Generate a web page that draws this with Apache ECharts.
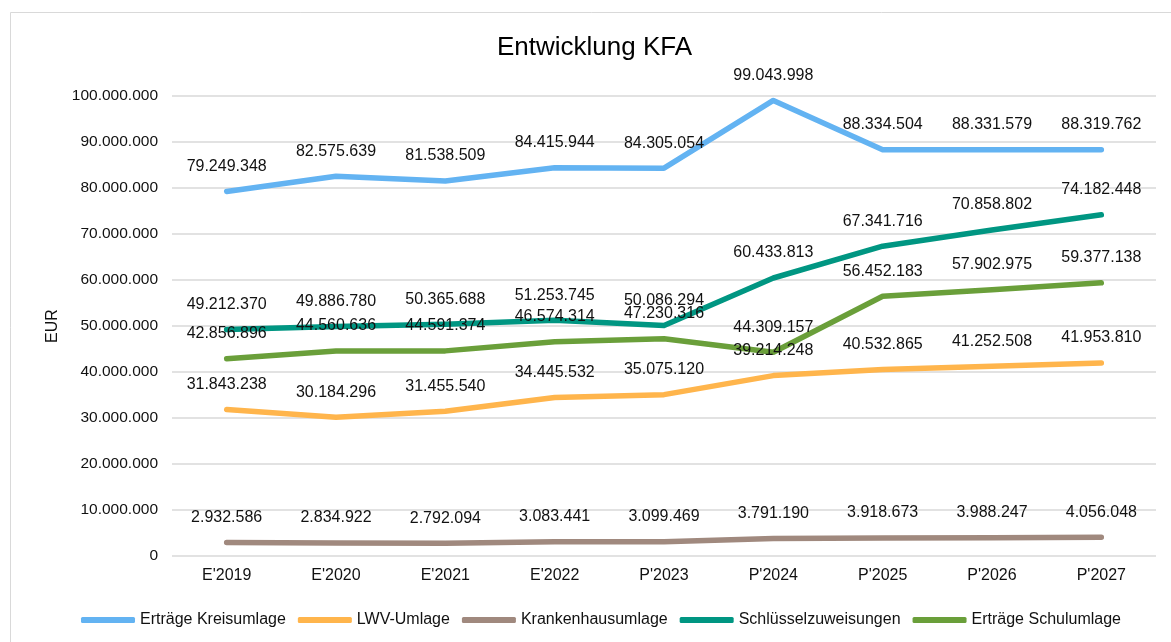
<!DOCTYPE html>
<html>
<head>
<meta charset="utf-8">
<script src="https://cdn.jsdelivr.net/npm/echarts@6/dist/echarts.min.js"></script>
<style>
    html, body { margin: 0; padding: 0; background: #fff; }
    #chart { width: 1171px; height: 642px; }
</style>
</head>
<body>
<div id="chart"></div>
<script>
    // Kategorien (E = Ergebnis, P = Plan)
    const years = ["E'2019", "E'2020", "E'2021", "E'2022", "P'2023", "P'2024", "P'2025", "P'2026", "P'2027"]

    const kreisumlage = [79249348, 82575639, 81538509, 84415944, 84305054, 99043998, 88334504, 88331579, 88319762]
    const lwvUmlage = [31843238, 30184296, 31455540, 34445532, 35075120, 39214248, 40532865, 41252508, 41953810]
    const krankenhausumlage = [2932586, 2834922, 2792094, 3083441, 3099469, 3791190, 3918673, 3988247, 4056048]
    const schluesselzuweisungen = [49212370, 49886780, 50365688, 51253745, 50086294, 60433813, 67341716, 70858802, 74182448]
    const schulumlage = [42856896, 44560636, 44591374, 46574314, 47230316, 44309157, 56452183, 57902975, 59377138]

    const fmt = v => String(v).replace(/\B(?=(\d{3})+(?!\d))/g, '.')

    const font = 'Liberation Sans, Arial, sans-serif'

    function line(name, data, color) {
        return {
            name: name,
            type: 'line',
            data: data,
            // Label haengt am Symbol, deshalb unsichtbarer Punkt statt 'none'
            symbol: 'circle',
            symbolSize: 0.1,
            showAllSymbol: true,
            lineStyle: { color: color, width: 5.5, cap: 'round', join: 'round' },
            itemStyle: { color: color },
            label: {
                show: true,
                position: 'top',
                distance: 17,
                color: '#111',
                fontFamily: font,
                fontSize: 16,
                formatter: p => fmt(p.value)
            },
            labelLayout: { hideOverlap: false }
        }
    }

    let mychart = echarts.init(document.getElementById('chart'))
    let option = {
        animation: false,
        backgroundColor: '#fff',
        title: {
            text: 'Entwicklung KFA',
            left: 492,
            top: 30,
            textStyle: { fontFamily: font, fontSize: 26, fontWeight: 'normal', color: '#000' }
        },
        graphic: [{
            type: 'rect',
            shape: { x: 10.5, y: 12.5, width: 1180, height: 650 },
            style: { fill: 'none', stroke: '#d9d9d9', lineWidth: 1 },
            silent: true
        }],
        grid: { left: 172, right: 15, top: 96, bottom: 86 },
        legend: {
            bottom: 9,
            left: 76,
            icon: 'roundRect',
            itemWidth: 54,
            itemHeight: 6,
            itemGap: 12,
            textStyle: { fontFamily: font, fontSize: 16, color: '#111' }
        },
        xAxis: {
            type: 'category',
            data: years,
            axisLine: { show: false },
            axisTick: { show: false },
            axisLabel: { margin: 12, fontFamily: font, fontSize: 16, color: '#111' }
        },
        yAxis: {
            type: 'value',
            min: 0,
            max: 100000000,
            interval: 10000000,
            name: 'EUR',
            nameLocation: 'middle',
            nameGap: 111,
            nameTextStyle: { fontFamily: font, fontSize: 16, color: '#111' },
            axisLine: { show: false },
            axisTick: { show: false },
            axisLabel: { margin: 14, fontFamily: font, fontSize: 15.5, color: '#111', formatter: v => fmt(v) },
            splitLine: { lineStyle: { color: '#d9d9d9', width: 1.5 } }
        },
        series: [
            line('Erträge Kreisumlage', kreisumlage, '#63b3f2'),
            line('LWV-Umlage', lwvUmlage, '#ffb54c'),
            line('Krankenhausumlage', krankenhausumlage, '#a0897e'),
            line('Schlüsselzuweisungen', schluesselzuweisungen, '#009682'),
            line('Erträge Schulumlage', schulumlage, '#6a9f3a')
        ]
    }
    mychart.setOption(option)
</script>
</body>
</html>
